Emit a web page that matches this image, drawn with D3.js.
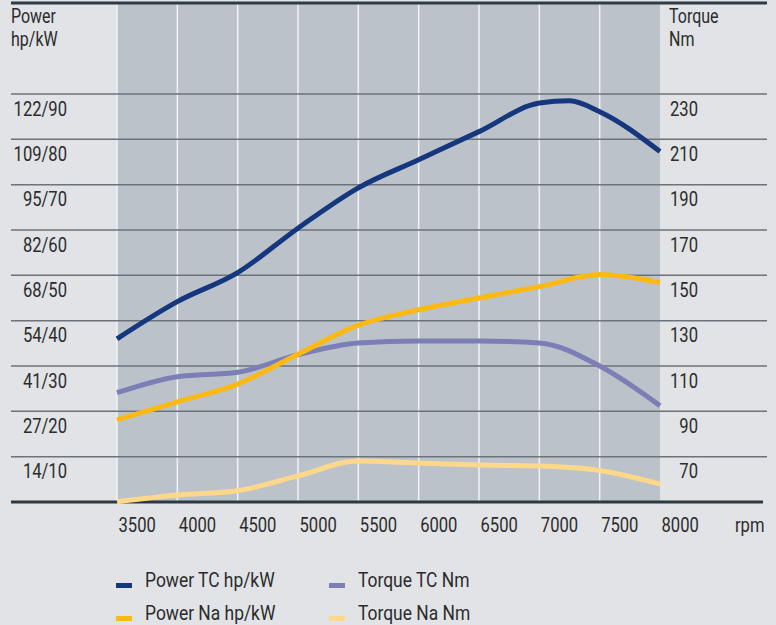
<!DOCTYPE html>
<html>
<head>
<meta charset="utf-8">
<script src="https://cdn.jsdelivr.net/npm/d3@7"></script>
<style>
  html, body { margin: 0; padding: 0; background: #e1e3e7; }
  svg { display: block; }
  text { font-family: Roboto, "Liberation Sans", sans-serif; fill: #2b2b2b; font-size: 21px; }
</style>
</head>
<body>
<svg id="chart" width="776" height="625"></svg>
<script>
// ---- data ----
const rpm = [3500, 4000, 4500, 5000, 5500, 6000, 6500, 7000, 7500, 8000];
const rpmPowerTC = [3500, 4000, 4500, 5000, 5500, 6000, 6500, 7000, 7250, 7500, 8000];
const powerTC = [36.0, 44.2, 50.6, 60.4, 69.3, 75.5, 81.7, 88.0, 88.5, 86.1, 77.3]; // kW
const powerNa = [18.1, 22.1, 26.0, 32.6, 39.0, 42.4, 45.0, 47.5, 50.2, 48.4];      // kW
const torqueTC = [98.2, 105.3, 107.2, 115.0, 120.2, 121.0, 121.0, 120.2, 110.0, 92.5]; // Nm
const torqueNa = [50.1, 53.1, 55.0, 61.5, 68.1, 67.2, 66.3, 65.9, 63.9, 57.9];        // Nm

const kwTicks = [90, 80, 70, 60, 50, 40, 30, 20, 10];
const powerTickLabels = ["122/90", "109/80", "95/70", "82/60", "68/50", "54/40", "41/30", "27/20", "14/10"];
const torqueTicks = [230, 210, 190, 170, 150, 130, 110, 90, 70];
const rpmTicks = [3500, 4000, 4500, 5000, 5500, 6000, 6500, 7000, 7500, 8000];

const seriesNames = ["Power TC hp/kW", "Power Na hp/kW", "Torque TC Nm", "Torque Na Nm"];
const seriesColors = ["#14377e", "#fdb913", "#7b7fb6", "#fed88a"];

// ---- layout ----
const SX = 0.79; // horizontal condensing to mimic a condensed typeface
const svg = d3.select("#chart");
const plotL = 117, plotR = 660, plotT = 3, plotB = 502;
const lineL = 11, lineR = 767;

const x = d3.scaleLinear().domain([3500, 8000]).range([plotL, plotR]);
const yP = d3.scaleLinear().domain([0, 90]).range([plotB, 94]);
const yT = d3.scaleLinear().domain([50, 230]).range([plotB, 94]);

function label(parent, px, py, s, anchor, size, sx) {
  const t = parent.append("text")
    .attr("transform", `translate(${px},${py}) scale(${sx || SX},1)`)
    .attr("text-anchor", anchor || "start")
    .text(s);
  if (size) t.style("font-size", size + "px");
  return t;
}

// plot background
svg.append("rect").attr("x", plotL).attr("y", plotT)
  .attr("width", plotR - plotL).attr("height", plotB - plotT)
  .attr("fill", "#bbc2ca");

// vertical white gridlines
svg.append("g").selectAll("line").data(rpmTicks.slice(0, -1)).join("line")
  .attr("x1", d => x(d)).attr("x2", d => x(d))
  .attr("y1", plotT).attr("y2", plotB)
  .attr("stroke", "#f2f3f5").attr("stroke-width", 1.5);

// horizontal gridlines
svg.append("g").selectAll("line").data(kwTicks).join("line")
  .attr("x1", lineL).attr("x2", lineR)
  .attr("y1", d => yP(d)).attr("y2", d => yP(d))
  .attr("stroke", "#6d737a").attr("stroke-width", 1.5);

// top line
svg.append("line").attr("x1", lineL).attr("x2", lineR)
  .attr("y1", plotT).attr("y2", plotT)
  .attr("stroke", "#2f3c47").attr("stroke-width", 3);

// left axis labels
const leftAxis = d3.axisLeft(yP).tickValues(kwTicks)
  .tickFormat((d, i) => powerTickLabels[i]).tickSize(0).tickPadding(0);
const gl = svg.append("g").attr("transform", "translate(67,0)").call(leftAxis)
  .attr("font-family", null).attr("font-size", null);
gl.select(".domain").remove();
gl.selectAll("text").attr("dy", null).attr("x", null).attr("fill", null)
  .attr("transform", `translate(0,21) scale(${SX},1)`).attr("text-anchor", "end");

// right axis labels
const rightAxis = d3.axisRight(yT).tickValues(torqueTicks).tickSize(0).tickPadding(0);
const gr = svg.append("g").attr("transform", "translate(698,0)").call(rightAxis)
  .attr("font-family", null).attr("font-size", null);
gr.select(".domain").remove();
gr.selectAll("text").attr("dy", null).attr("x", null).attr("fill", null)
  .attr("transform", `translate(0,21) scale(${SX},1)`).attr("text-anchor", "end");

// bottom axis labels
const bottomAxis = d3.axisBottom(x).tickValues(rpmTicks).tickFormat(d3.format("d")).tickSize(0).tickPadding(0);
const gb = svg.append("g").attr("transform", `translate(0,${plotB})`).call(bottomAxis)
  .attr("font-family", null).attr("font-size", null);
gb.select(".domain").remove();
gb.selectAll("text").attr("dy", null).attr("y", null).attr("fill", null)
  .attr("transform", `translate(1,30) scale(${SX},1)`).attr("text-anchor", "start");

label(svg, 735, 532, "rpm");

// bottom axis line
svg.append("line").attr("x1", lineL).attr("x2", 763)
  .attr("y1", plotB).attr("y2", plotB)
  .attr("stroke", "#2b3944").attr("stroke-width", 3);

// axis titles
label(svg, 11, 23, "Power", "start", 19.5, 0.82);
label(svg, 11, 46, "hp/kW", "start", 19.5, 0.82);
label(svg, 669, 23, "Torque", "start", 19.5, 0.82);
label(svg, 669, 46, "Nm", "start", 19.5, 0.82);

// lines
const curve = d3.curveMonotoneX;
const linePTC = d3.line().x((d, i) => x(rpmPowerTC[i])).y(d => yP(d)).curve(curve);
const lineP = d3.line().x((d, i) => x(rpm[i])).y(d => yP(d)).curve(curve);
const lineT = d3.line().x((d, i) => x(rpm[i])).y(d => yT(d)).curve(curve);

const g = svg.append("g").attr("fill", "none").attr("stroke-width", 5);
g.append("path").attr("d", lineT(torqueNa)).attr("stroke", seriesColors[3]);
g.append("path").attr("d", lineT(torqueTC)).attr("stroke", seriesColors[2]);
g.append("path").attr("d", lineP(powerNa)).attr("stroke", seriesColors[1]);
g.append("path").attr("d", linePTC(powerTC)).attr("stroke", seriesColors[0]);

// legend
const legendPos = [[116, 583], [116, 616], [329, 583], [329, 616]];
const lg = svg.append("g").selectAll("g").data(seriesNames).join("g")
  .attr("transform", (d, i) => `translate(${legendPos[i][0]},${legendPos[i][1]})`);
lg.append("rect").attr("x", 0).attr("y", 0).attr("width", 16).attr("height", 5)
  .attr("fill", (d, i) => seriesColors[i]);
lg.append("text").attr("transform", `translate(29,4) scale(0.83,1)`).text(d => d);
</script>
</body>
</html>
